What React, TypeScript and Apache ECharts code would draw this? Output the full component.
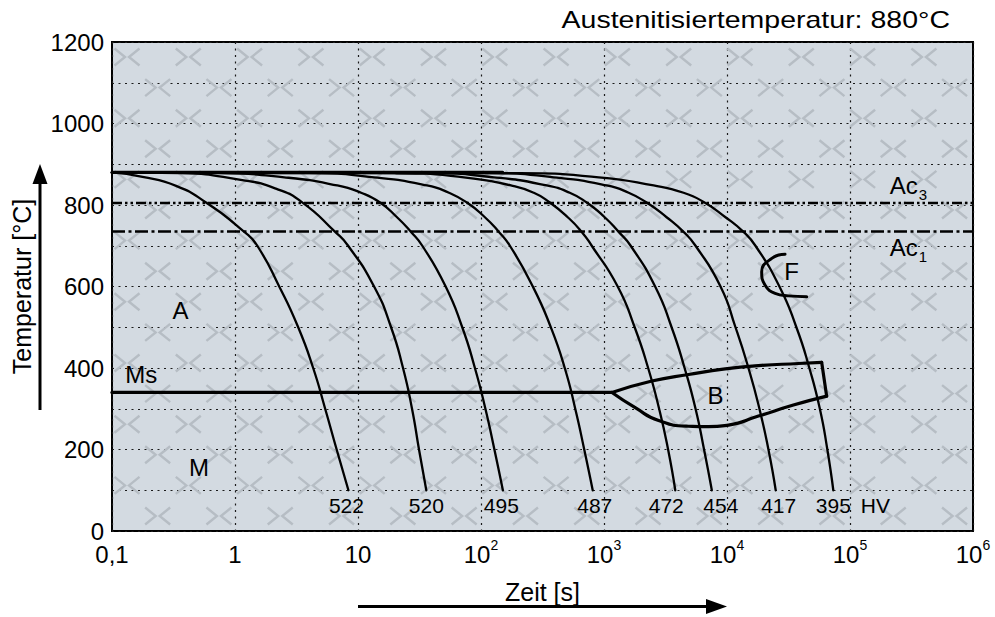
import React, { useEffect, useRef } from 'react';
import * as echarts from 'echarts';

const FONT = '"Liberation Sans", Arial, Helvetica, sans-serif';

// ---------- data ----------
const yTickStep = 100;
const yLabelStep = 200;
const austenitizingTemp = 880;
const ac3Temp = 805;
const ac1Temp = 735;
const msTemp = 340;

const hardness = ['522', '520', '495', '487', '472', '454', '417', '395'];

// cooling curves: [time s, temperature °C]
const curve522 = [[0.1, 880], [0.177, 869], [0.332, 847], [0.581, 806], [1.19, 734], [1.517, 700], [2.288, 600], [3.265, 500], [4.321, 400], [5.408, 300], [6.706, 200], [8.36, 100]];
const curve520 = [[0.1, 880], [0.354, 878], [1.146, 861], [2.151, 840], [3.538, 806], [6.52, 734], [8.31, 700], [13.51, 600], [18.57, 500], [23.23, 400], [27.49, 300], [31.33, 200], [35.92, 100]];
const curve495 = [[0.1, 880], [0.746, 878], [2.513, 868], [6.767, 848], [10.6, 830], [15.11, 806], [20.77, 770], [26.98, 734], [33.32, 700], [51.6, 600], [70.39, 500], [89.22, 400], [108.6, 300], [128.5, 200], [150.6, 100]];
const curve487 = [[0.1, 880], [4.009, 878], [13.51, 868], [36.38, 848], [54.88, 830], [76.84, 806], [107.6, 770], [139.8, 734], [171.7, 700], [263.8, 600], [369.4, 500], [479.7, 400], [583.7, 300], [690.8, 200], [809.6, 100]];
const curve472 = [[0.1, 880], [19.63, 878], [72.64, 868], [174.9, 848], [268.8, 830], [362.5, 806], [507.6, 770], [659.2, 734], [794.9, 700], [1292, 600], [1775, 500], [2285, 400], [2806, 300], [3320, 200], [3797, 100]];
const curve454 = [[0.1, 880], [37.76, 878], [127.2, 868], [342.7, 848], [526.8, 830], [723.8, 806], [1013, 770], [1316, 734], [1647, 700], [2604, 600], [3544, 500], [4519, 400], [5550, 300], [6507, 200], [7527, 100]];
const curve417 = [[0.1, 880], [115.9, 878], [390.6, 868], [1052, 848], [1587, 830], [2221, 806], [3228, 770], [4437, 734], [5550, 700], [8856, 600], [11720, 500], [14940, 400], [18350, 300], [21720, 200], [24890, 100]];
const curve395 = [[0.1, 880], [203, 878], [905.7, 868], [2532, 848], [4437, 830], [6569, 806], [9723, 770], [13610, 734], [17030, 700], [26680, 600], [36650, 500], [46720, 400], [56870, 300], [65420, 200], [73170, 100]];
const coolingCurves = [curve522, curve520, curve495, curve487, curve472, curve454, curve417, curve395];

const austenitizingLine = [[0.1, austenitizingTemp], [150, austenitizingTemp]];
const msLine = [[0.1, msTemp], [1161, msTemp]];
const bainiteUpper = [[1161, 340], [2453, 368], [4869, 384], [9670, 398], [18020, 406], [38060, 411], [58840, 414]];
const bainiteRight = [[58840, 414], [64580, 331]];
const bainiteLower = [[64580, 331], [34660, 309], [18020, 282], [10290, 260], [7076, 256], [4869, 257], [2780, 271], [1808, 302], [1161, 340]];
const ferriteStart = [[29650, 679], [23120, 669], [19140, 636], [20420, 603], [24600, 583], [31480, 577], [44460, 575]];

// annotation anchors (data coordinates)
const regionLabels = [
  { text: 'A', t: 0.36, T: 542 },
  { text: 'Ms', t: 0.173, T: 385 },
  { text: 'M', t: 0.51, T: 157 },
  { text: 'B', t: 8060, T: 332 },
  { text: 'F', t: 33570, T: 636 },
];

// ---------- layout ----------
const W = 995;
const H = 617;
const GRID = { left: 112, right: 22, top: 42, bottom: 86 };
const hardnessNudge = [-2, 0, -1.5, 2, -9, 9, 3, 0];

export default function App() {
  const ref = useRef<HTMLDivElement>(null);

  useEffect(() => {
    const el = ref.current;
    if (!el) return;
    const chart = echarts.init(el, null, { renderer: 'svg' });

    const blackLine = (data: number[][], width: number, smooth: number | boolean, extra: any = {}) => ({
      type: 'line',
      data,
      symbol: 'none',
      showSymbol: false,
      smooth,
      silent: true,
      z: 3,
      lineStyle: { color: '#000', width, cap: 'round', join: 'round', ...extra },
    });

    const series: any[] = [];
    series.push(blackLine(austenitizingLine, 3.2, false));
    coolingCurves.forEach((c) => series.push(blackLine(c, 2.3, 0.55)));
    series.push(blackLine([[0.1, ac3Temp], [1e6, ac3Temp]], 2.5, false, { type: [10, 3, 2.5, 3, 2.5, 3], cap: 'butt' }));
    series.push(blackLine([[0.1, ac1Temp], [1e6, ac1Temp]], 2.5, false, { type: [13, 3.5, 3, 3.5], cap: 'butt' }));
    series.push(blackLine(msLine, 3.3, false));
    series.push(blackLine(bainiteUpper, 3.2, 0.5));
    series.push(blackLine(bainiteRight, 3.2, false));
    series.push(blackLine(bainiteLower, 3.2, 0.55));
    series.push(blackLine(ferriteStart, 3, 0.5));

    chart.setOption({
      animation: false,
      backgroundColor: '#ffffff',
      grid: {
        left: GRID.left,
        right: GRID.right,
        top: GRID.top,
        bottom: GRID.bottom,
        show: true,
        backgroundColor: '#d3dae1',
        borderColor: '#000',
        borderWidth: 2,
        containLabel: false,
        outerBoundsMode: 'none',
      },
      xAxis: {
        type: 'log',
        logBase: 10,
        min: 0.1,
        max: 1e6,
        axisLine: { show: false },
        axisTick: { show: false },
        splitLine: { show: true, lineStyle: { color: '#1a1a1a', width: 1.2, type: [2, 4.5] } },
        axisLabel: {
          show: true,
          showMinLabel: true,
          showMaxLabel: true,
          color: '#000',
          fontSize: 24,
          fontFamily: FONT,
          lineHeight: 32,
          margin: 7,
          formatter: (v: number) => {
            const k = Math.round(Math.log10(v));
            if (k === -1) return '0,1';
            if (k === 0) return '1';
            if (k === 1) return '10';
            return `10{sup|${k}}`;
          },
          rich: {
            sup: { fontSize: 14, fontFamily: FONT, color: '#000', verticalAlign: 'top', lineHeight: 14 },
          },
        },
      },
      yAxis: {
        type: 'value',
        min: 0,
        max: 1200,
        interval: yTickStep,
        axisLine: { show: false },
        axisTick: { show: false },
        splitLine: { show: true, lineStyle: { color: '#1a1a1a', width: 1.2, type: [2, 4.5] } },
        axisLabel: {
          color: '#000',
          fontSize: 24,
          fontFamily: FONT,
          lineHeight: 14,
          margin: 8,
          formatter: (v: number) => (v % yLabelStep === 0 ? String(v) : ''),
        },
      },
      series,
    });

    const toPx = (p: number[]) => chart.convertToPixel({ gridIndex: 0 } as any, p) as number[];
    const [x0, y0] = toPx([0.1, 1200]);
    const [x1, y1] = toPx([1e6, 0]);

    const graphics: any[] = [];

    // watermark chevrons
    const rowStep = 30.6;
    const colStep = 61.3;
    const wmStyle = { stroke: '#b6bdc4', lineWidth: 2.4, fill: null };
    for (let k = 0; ; k++) {
      const cy = y0 + 15 + rowStep * k;
      if (cy + 9 > y1) break;
      const offset = k % 2 ? colStep / 2 : 0;
      for (let j = -1; ; j++) {
        const cx = x0 + 15 + offset + colStep * j;
        if (cx - 13 < x0) continue;
        if (cx + 13 > x1) break;
        graphics.push({
          type: 'polyline', silent: true, z: 1,
          shape: { points: [[cx - 12.5, cy - 8.5], [cx - 2, cy], [cx - 12.5, cy + 8.5]] },
          style: wmStyle,
        });
        graphics.push({
          type: 'polyline', silent: true, z: 1,
          shape: { points: [[cx + 12.5, cy - 8.5], [cx + 2, cy], [cx + 12.5, cy + 8.5]] },
          style: wmStyle,
        });
      }
    }

    const txt = (text: string, x: number, y: number, size: number, align = 'center', extra: any = {}) => ({
      type: 'text', silent: true, z: 10, x, y, ...extra,
      style: { text, fill: '#000', fontSize: size, fontFamily: FONT, align, verticalAlign: 'middle' },
    });

    // region labels
    regionLabels.forEach((r) => {
      const [px, py] = toPx([r.t, r.T]);
      graphics.push(txt(r.text, px, py, 24));
    });

    // Ac labels
    const [acX, ac3Y] = toPx([2.1e5, 848.5]);
    const [, ac1Y] = toPx([2.1e5, 696.6]);
    graphics.push(txt('Ac', acX, ac3Y, 24, 'left'));
    graphics.push(txt('3', acX + 29, ac3Y + 9, 15, 'left'));
    graphics.push(txt('Ac', acX, ac1Y, 24, 'left'));
    graphics.push(txt('1', acX + 29, ac1Y + 9, 15, 'left'));

    // hardness labels
    coolingCurves.forEach((c, i) => {
      const end = c[c.length - 1];
      const [px, py] = toPx(end);
      graphics.push(txt(hardness[i], px + hardnessNudge[i], py + 15, 21));
      if (i === coolingCurves.length - 1) graphics.push(txt('HV', px + 42, py + 15, 21));
    });

    // title
    graphics.push(txt('Austenitisiertemperatur: 880°C', 950, 20, 23, 'right', { scaleX: 1.24 }));

    // axis names & arrows
    graphics.push(txt('Temperatur [°C]', 22, (y0 + y1) / 2, 25, 'center', { rotation: Math.PI / 2 }));
    graphics.push({ type: 'line', silent: true, z: 10, shape: { x1: 40, y1: 410, x2: 40, y2: 180 }, style: { stroke: '#000', lineWidth: 3 } });
    graphics.push({ type: 'polygon', silent: true, z: 10, shape: { points: [[32.5, 184], [40, 164], [47.5, 184]] }, style: { fill: '#000' } });

    graphics.push(txt('Zeit [s]', 542.5, 592, 25));
    graphics.push({ type: 'line', silent: true, z: 10, shape: { x1: 358, y1: 606.5, x2: 710, y2: 606.5 }, style: { stroke: '#000', lineWidth: 3 } });
    graphics.push({ type: 'polygon', silent: true, z: 10, shape: { points: [[706, 599], [727, 606.5], [706, 614]] }, style: { fill: '#000' } });

    chart.setOption({ graphic: graphics });

    return () => chart.dispose();
  }, []);

  return <div ref={ref} style={{ position: 'fixed', left: 0, top: 0, width: W, height: H }} />;
}
